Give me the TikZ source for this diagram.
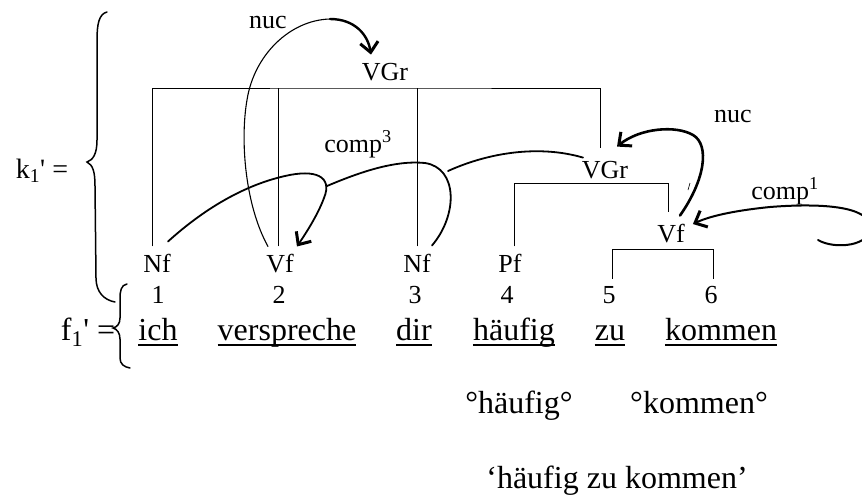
\documentclass[tikz,border=0pt]{standalone}
\usepackage{fontspec}
\setmainfont{Liberation Serif}
\usetikzlibrary{arrows.meta}
\begin{document}
\begin{tikzpicture}[x=1pt,y=-1pt,
  lab/.style={font=\fontsize{26}{30}\selectfont, inner xsep=0pt, inner ysep=7pt, anchor=base},
  word/.style={font=\fontsize{32}{38}\selectfont, inner sep=0pt, anchor=base},
  tree/.style={line width=0.9pt},
  uline/.style={line width=1.3pt},
  arc/.style={line width=1.8pt, line cap=round},
  thinarc/.style={line width=1.1pt, line cap=round},
  tip/.style={-{Straight Barb[length=10pt,width=18pt,line width=3pt]}},
  brace/.style={line width=1.5pt, line cap=round}]
\useasboundingbox (0,0) rectangle (862,496);
\fill[white] (0,0) rectangle (862,496);

% left labels
\node[lab, inner sep=0pt, font=\fontsize{28}{32}\selectfont] (k1) at (42,178) {k\textsubscript{1}\textquotesingle\ =};
\node[word] (f1) at (88,340) {f\textsubscript{1}\textquotesingle\ =};

% words
\node[word] (w1) at (158,340) {ich};
\node[word] (w2) at (287,340) {verspreche};
\node[word] (w3) at (414,340) {dir};
\node[word] (w4) at (514,340) {häufig};
\node[word] (w5) at (610,340) {zu};
\node[word] (w6) at (721,340) {kommen};
\foreach \w in {w1,w2,w3,w4,w5,w6}
  \draw[uline] ([yshift=-5pt]\w.base west) -- ([yshift=-5pt]\w.base east);

% numbers
\node[lab] (n1) at (158,303) {1};
\node[lab] (n2) at (279,303) {2};
\node[lab] (n3) at (415,303) {3};
\node[lab] (n4) at (507,303) {4};
\node[lab] (n5) at (609,303) {5};
\node[lab] (n6) at (711,303) {6};

% category labels
\node[lab] (nf1) at (157,272) {Nf};
\node[lab] (vf2) at (280,272) {Vf};
\node[lab] (nf3) at (417,272) {Nf};
\node[lab] (pf4) at (510,272) {Pf};
\node[lab] (vgr1) at (385,80) {VGr};
\node[lab] (vgr2) at (605,178) {VGr};
\node[lab] (vf3) at (671,242) {Vf};

% relation labels
\node[lab, inner sep=0pt] (nucA) at (268,28) {nuc};
\node[lab, inner sep=0pt] (comp3) at (358,152) {comp\textsuperscript{3}};
\node[lab, inner sep=0pt] (nucB) at (733,122) {nuc};
\node[lab, inner sep=0pt] (comp1) at (785,199) {comp\textsuperscript{1}};

% glosses
\node[word] (g1) at (519,413) {°häufig°};
\node[word] (g2) at (699,413) {°kommen°};
\node[word] (g3) at (617,488) {‘häufig zu kommen’};

% tree lines
\coordinate (barA) at (385,88);
\draw[tree] ([xshift=-5pt]nf1.north) |- (barA) -| ([xshift=-5pt,yshift=6pt]vgr2.north);
\draw[tree] ([xshift=-2pt]vf2.north) -- ([xshift=-2pt]vf2.north |- barA);
\draw[tree] (nf3.north) -- (nf3.north |- barA);
\draw[tree] ([xshift=4pt]pf4.north) |- ([yshift=2pt]vgr2.south) -| ([xshift=-3pt,yshift=4pt]vf3.north);
\draw[tree] ([xshift=3pt]n5.north) |- (vf3.south) -| ([xshift=2pt]n6.north);

% braces
\draw[brace] (107,12) .. controls (99,14) and (97,24) .. (97,40) -- (97,140)
  .. controls (97,154) and (93,160) .. (87,162)
  .. controls (93,165) and (95,172) .. (95,186) -- (96,278)
  .. controls (96,292) and (104,300) .. (115,302);
\draw[brace] (127,284) .. controls (121,285) and (120,291) .. (120,299) -- (120,318)
  .. controls (120,324) and (117,327) .. (113,328)
  .. controls (117,329) and (120,333) .. (120,339) -- (120,358)
  .. controls (120,364) and (124,367) .. (130,368);

% nuc (upper): Vf2 -> VGr1
\draw[thinarc] ([xshift=-12pt]vf2.north) .. controls (245,205) and (240,140) .. (247,100)
  .. controls (254,55) and (290,20) .. (330,19) coordinate (nucmid);
\draw[arc, line width=2.4pt, tip] (nucmid) .. controls (355,19) and (368,35) .. ([xshift=-14pt,yshift=1pt]vgr1.north);

% comp3
\draw[arc, tip] ([xshift=11pt,yshift=5pt]nf1.north) .. controls (205,208) and (245,185) .. (285,176)
  .. controls (315,169) and (333,176) .. (324,198)
  .. controls (318,214) and (308,230) .. ([xshift=17pt]vf2.north);
\coordinate (j1) at (327,186);
\draw[arc] (j1) .. controls (360,172) and (395,160) .. (425,163)
  .. controls (458,168) and (458,215) .. ([xshift=15pt,yshift=1pt]nf3.north);
\coordinate (j2) at (448,171);
\draw[arc] ([xshift=-22pt,yshift=-4pt]vgr2.north) .. controls (540,145) and (490,152) .. (j2);

% nuc (right): Vf3 -> VGr2
\draw[arc, line width=2.6pt, tip] ([xshift=9pt,yshift=1pt]vf3.north) .. controls (705,180) and (710,145) .. (693,135)
  .. controls (676,125) and (640,128) .. ([xshift=12pt,yshift=7pt]vgr2.north);
\draw[line width=0.6pt] (688,190) -- (690,183);

% comp1: -> Vf3
\coordinate (c1s) at (818,240);
\draw[arc, line width=2pt, tip] (c1s) .. controls (835,250) and (872,246) .. (870,226)
  .. controls (868,206) and (820,203) .. (770,207)
  .. controls (740,210) and (712,215) .. ([shift={(8,-9)}]vf3.east);
\end{tikzpicture}
\end{document}
